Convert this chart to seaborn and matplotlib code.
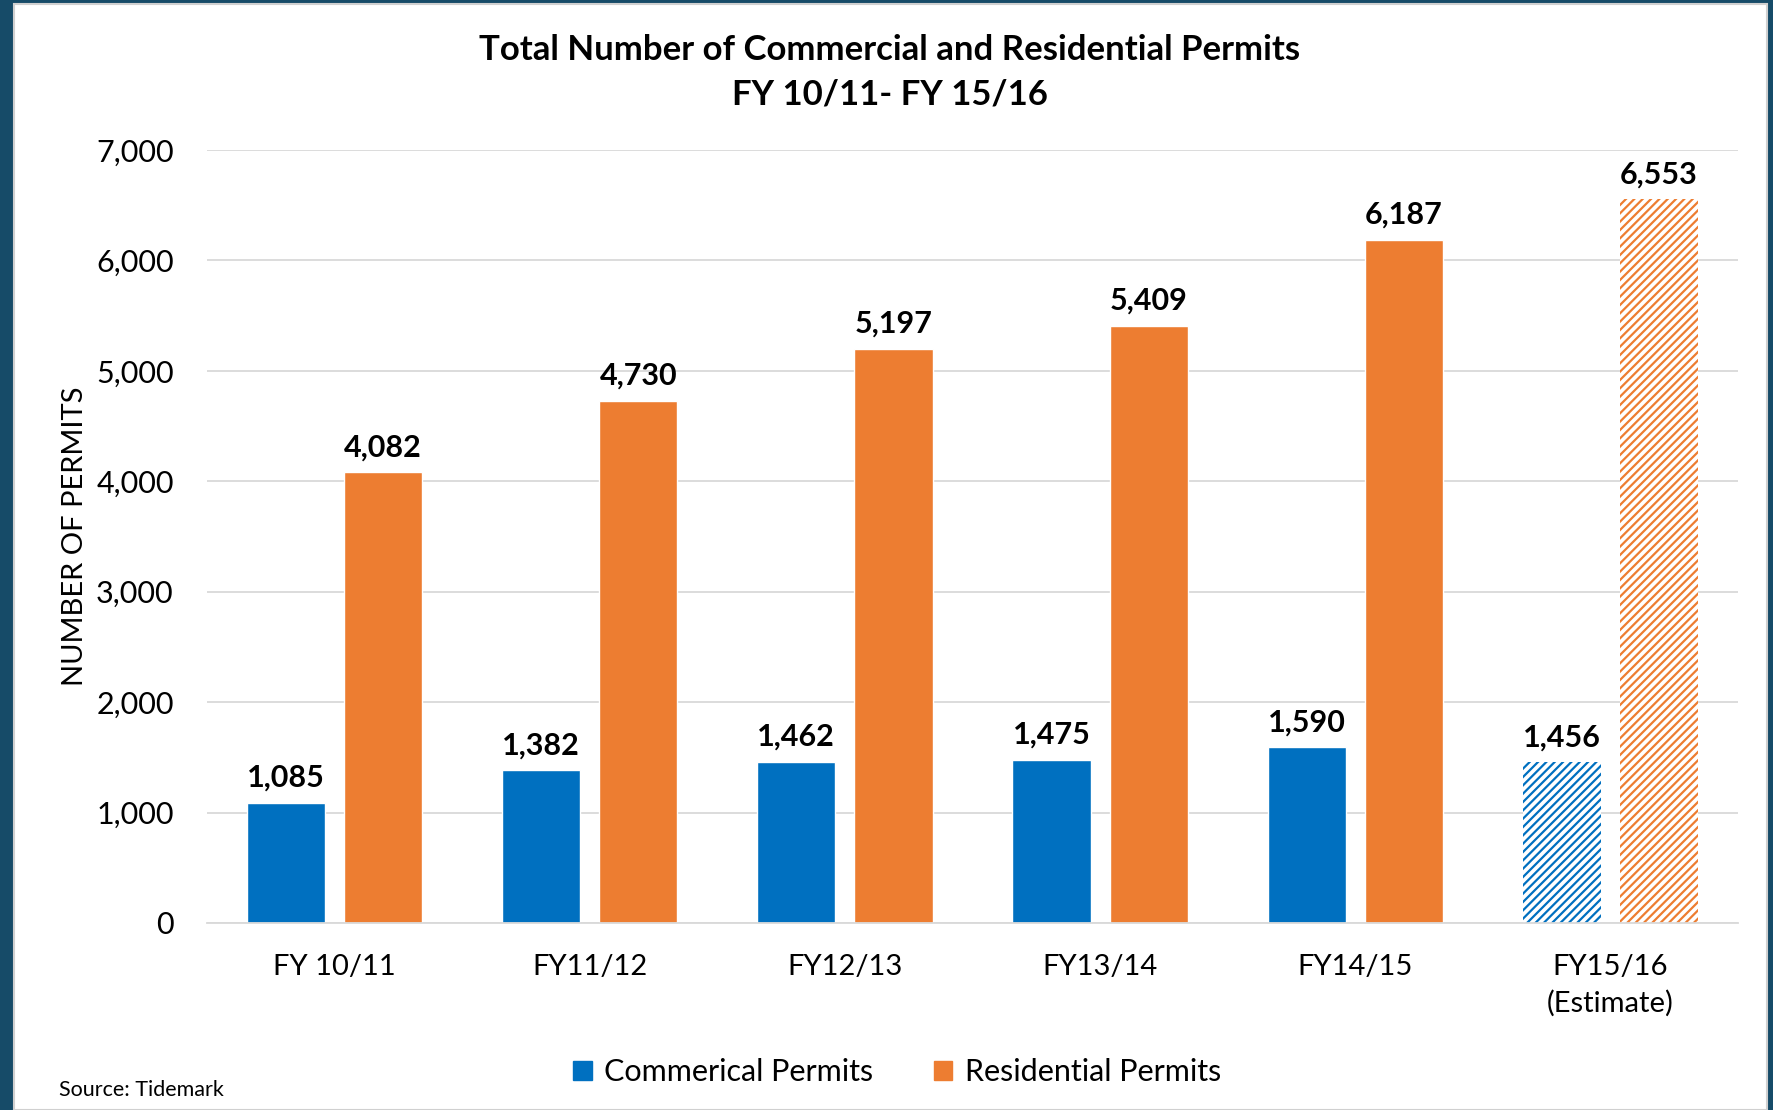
import matplotlib

matplotlib.use("Agg")
import matplotlib.pyplot as plt
import matplotlib.patches as mpatches
import pandas as pd
import seaborn as sns
from matplotlib.ticker import FuncFormatter

# values
years = ["FY 10/11", "FY11/12", "FY12/13", "FY13/14", "FY14/15", "FY15/16\n(Estimate)"]
commercial = [1085, 1382, 1462, 1475, 1590, 1456]
residential = [4082, 4730, 5197, 5409, 6187, 6553]
series = ["Commerical Permits", "Residential Permits"]
colors = ["#0070C0", "#ED7D31"]
estimate_idx = 5  # last fiscal year is an estimate -> hatched bars

sns.set_theme(style="white")
plt.rcParams["font.family"] = ["Lato", "DejaVu Sans"]
plt.rcParams["text.color"] = "black"
plt.rcParams["hatch.linewidth"] = 1.6

df = pd.DataFrame({
    "year": years * 2,
    "permits": commercial + residential,
    "type": [series[0]] * len(years) + [series[1]] * len(years),
})

fig = plt.figure(figsize=(17.73, 11.10), dpi=100, facecolor="#164b68")
# white slide panel inside the dark frame
fig.patches.append(mpatches.Rectangle((14 / 1773, 0), (1767 - 14) / 1773, 1 - 4 / 1110,
                                      transform=fig.transFigure, facecolor="white",
                                      edgecolor="#d0d0d0", linewidth=1.5, zorder=-5))
ax = fig.add_axes([207 / 1773, 1 - 923 / 1110, (1738 - 207) / 1773, (923 - 150) / 1110])
ax.set_facecolor("none")

sns.barplot(data=df, x="year", y="permits", hue="type", order=years, hue_order=series,
            palette=colors, width=0.762, gap=0.197, saturation=1, legend=False, ax=ax)

for cont, col in zip(ax.containers, colors):
    bar = cont.patches[estimate_idx]
    bar.set_facecolor("white")
    bar.set_edgecolor(col)
    bar.set_linewidth(0)
    bar.set_hatch("////")
    ax.bar_label(cont, labels=[f"{v:,.0f}" for v in cont.datavalues], padding=8,
                 fontsize=22, fontweight="bold", color="black")

ax.set_ylim(0, 7000)
ax.set_yticks(range(0, 7001, 1000))
ax.yaxis.set_major_formatter(FuncFormatter(lambda v, _: f"{v:,.0f}"))
ax.grid(axis="y", color="#d9d9d9", linewidth=1.3)
ax.set_axisbelow(True)
for s in ["top", "right", "left"]:
    ax.spines[s].set_visible(False)
ax.spines["bottom"].set_color("#d9d9d9")
ax.spines["bottom"].set_linewidth(1.3)
ax.tick_params(axis="both", length=0, colors="black")
ax.tick_params(axis="y", pad=24, labelsize=22)
ax.tick_params(axis="x", pad=22, labelsize=21)
for lbl in ax.get_xticklabels():
    lbl.set_linespacing(1.45)
ax.set_xlabel("")
ax.set_ylabel("NUMBER OF PERMITS", fontsize=21, labelpad=6, color="black")

fig.text(890 / 1773, 1 - 50 / 1110, "Total Number of Commercial and Residential Permits",
         ha="center", va="center", fontsize=25, fontweight="bold")
fig.text(890 / 1773, 1 - 94 / 1110, "FY 10/11- FY 15/16",
         ha="center", va="center", fontsize=25, fontweight="bold")

handles = [mpatches.Patch(color=c, label=s) for c, s in zip(colors, series)]
fig.legend(handles=handles, loc="center", bbox_to_anchor=(897 / 1773, 1 - 1072 / 1110),
           ncol=2, frameon=False, fontsize=22, handlelength=0.6, handleheight=0.6,
           handletextpad=0.4, columnspacing=2.0)

fig.text(59 / 1773, 1 - 1090 / 1110, "Source: Tidemark", ha="left", va="center", fontsize=15.5)

fig.savefig("out.png", dpi=100, facecolor=fig.get_facecolor())
